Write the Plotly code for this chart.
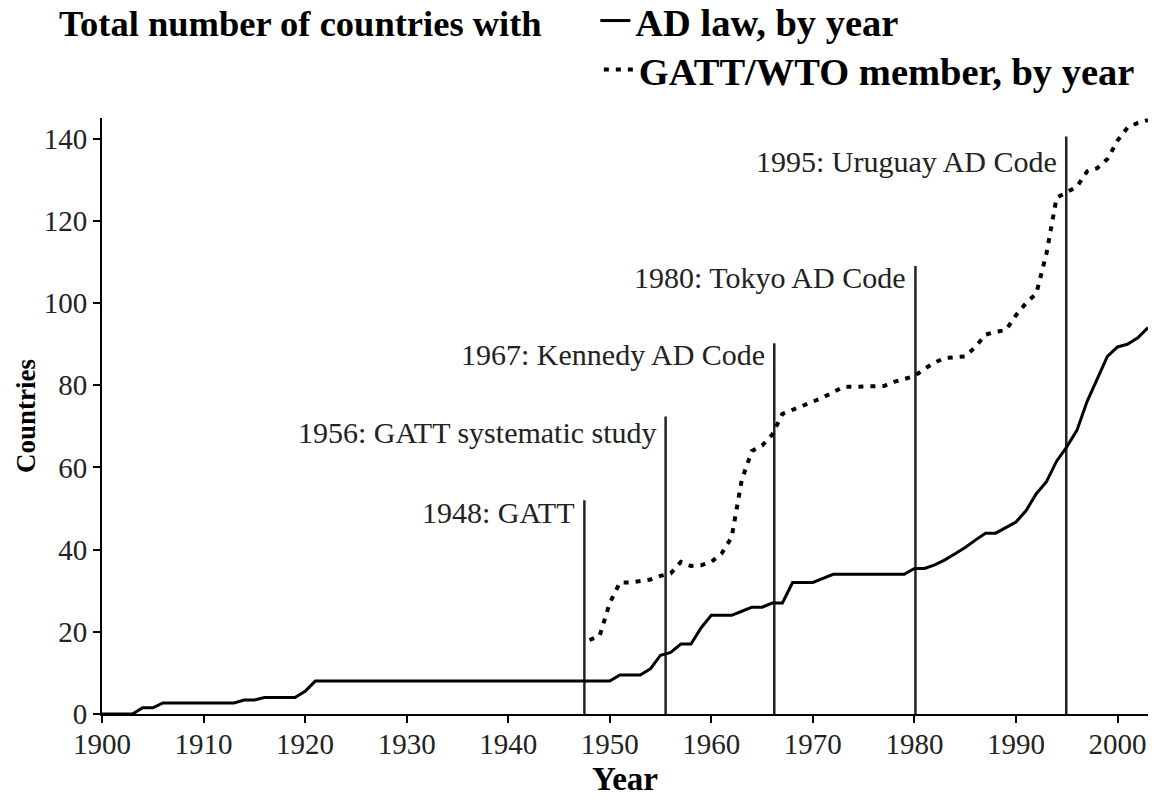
import plotly.graph_objects as go

# ---------------- data ----------------
years_ad = list(range(1900, 2004))
ad_law = [
    0, 0, 0, 0, 1.5, 1.5, 2.7, 2.7, 2.7, 2.7,          # 1900-1909
    2.7, 2.7, 2.7, 2.7, 3.4, 3.4, 4, 4, 4, 4,          # 1910-1919
    5.5, 8, 8, 8, 8, 8, 8, 8, 8, 8,                    # 1920-1929
    8, 8, 8, 8, 8, 8, 8, 8, 8, 8,                      # 1930-1939
    8, 8, 8, 8, 8, 8, 8, 8, 8, 8,                      # 1940-1949
    8, 9.5, 9.5, 9.5, 11, 14.3, 15, 17, 17, 21,        # 1950-1959
    24, 24, 24, 25, 26, 26, 27, 27, 32, 32,            # 1960-1969
    32, 33, 34, 34, 34, 34, 34, 34, 34, 34,            # 1970-1979
    35.4, 35.4, 36.3, 37.5, 39, 40.5, 42.3, 44, 44, 45.3,  # 1980-1989
    46.7, 49.5, 53.6, 56.5, 61.5, 65, 69, 76, 81.5, 87,    # 1990-1999
    89.3, 90, 91.5, 94,                                 # 2000-2003
]

years_gatt = list(range(1948, 2004))
gatt_members = [
    18, 19,                                             # 1948-1949
    27, 32, 32, 32.4, 32.7, 33.6, 34.2, 37, 36, 36.2,   # 1950-1959
    37, 39, 43, 57, 64, 65.3, 68, 73, 74, 75,           # 1960-1969
    76, 77, 78.3, 79.6, 79.6, 79.6, 79.6, 79.8, 80.8, 81.5,  # 1970-1979
    82.2, 84, 85.5, 86.6, 86.7, 87, 89.3, 92.3, 93, 93.4,    # 1980-1989
    97, 100, 102.3, 112, 125.6, 127, 128.3, 132, 132.8, 135,  # 1990-1999
    139.5, 142.7, 143.8, 144.5,                         # 2000-2003
]

event_x = [1947.5, 1955.5, 1966.2, 1980.1, 1994.95]
event_top = [52, 72.4, 90.2, 109, 140.5]
event_label_y = [49.0, 68.4, 87.5, 106.3, 134.5]
event_labels = [
    "1948: GATT",
    "1956: GATT systematic study",
    "1967: Kennedy AD Code",
    "1980: Tokyo AD Code",
    "1995: Uruguay AD Code",
]

x_ticks = list(range(1900, 2001, 10))
y_ticks = list(range(0, 141, 20))

# ---------------- figure ----------------
SERIF = "Liberation Serif, Times New Roman, serif"
NB = "\u00a0"

fig = go.Figure()

for ex, top in zip(event_x, event_top):
    fig.add_trace(go.Scatter(
        x=[ex, ex], y=[0, top], mode="lines",
        line=dict(color="#222222", width=2.5),
        showlegend=False, hoverinfo="skip",
    ))

fig.add_trace(go.Scatter(
    x=years_ad, y=ad_law, mode="lines", name="AD law, by year",
    line=dict(color="black", width=3), legend="legend",
))
fig.add_trace(go.Scatter(
    x=years_gatt, y=gatt_members, mode="lines", name="GATT/WTO member, by year",
    line=dict(color="black", width=4, dash="5px,7px"), legend="legend2",
))

for ex, ly, txt in zip(event_x, event_label_y, event_labels):
    fig.add_annotation(
        x=ex, y=ly, text=txt, showarrow=False,
        xanchor="right", yanchor="middle", xshift=-7,
        font=dict(family=SERIF, size=30, color="#222222"),
    )

legend_font = dict(family=SERIF, size=38.5, color="black", weight="bold")

fig.update_layout(
    width=1154, height=805,
    margin=dict(l=102, r=6, t=118, b=91, autoexpand=False),
    paper_bgcolor="white", plot_bgcolor="white",
    font=dict(family=SERIF, color="black"),
    showlegend=True,
    legend=dict(
        x=-0.043, xanchor="left", y=1.2164, yanchor="top",
        bgcolor="rgba(0,0,0,0)", borderwidth=0,
        font=legend_font,
        title=dict(
            text="Total number of countries with" + NB * 5,
            side="left",
            font=dict(family=SERIF, size=36.5, color="black", weight="bold"),
        ),
    ),
    legend2=dict(
        x=0.475, xanchor="left", y=1.1342, yanchor="top",
        bgcolor="rgba(0,0,0,0)", borderwidth=0,
        font=legend_font,
    ),
    xaxis=dict(
        range=[1900, 2003], tickvals=x_ticks,
        showgrid=False, zeroline=False,
        showline=True, linecolor="black", linewidth=2,
        ticks="outside", ticklen=7, tickwidth=2, tickcolor="black",
        ticklabelstandoff=-4,
        tickfont=dict(family=SERIF, size=29, color="#222222"),
        title=dict(text="Year", standoff=8,
                   font=dict(family=SERIF, size=33, color="black", weight="bold")),
    ),
    yaxis=dict(
        range=[0, 145], tickvals=y_ticks,
        showgrid=False, zeroline=False,
        showline=True, linecolor="black", linewidth=2,
        ticks="outside", ticklen=7, tickwidth=2, tickcolor="black",
        tickfont=dict(family=SERIF, size=29, color="#222222"),
        title=dict(text="Countries", standoff=0,
                   font=dict(family=SERIF, size=27, color="black", weight="bold")),
    ),
)

# remove the browser's default 8px body margin so the figure fills the window
fig.write_html(
    "out.html",
    config={"displayModeBar": False},
    post_script="document.body.style.margin='0px';",
)
